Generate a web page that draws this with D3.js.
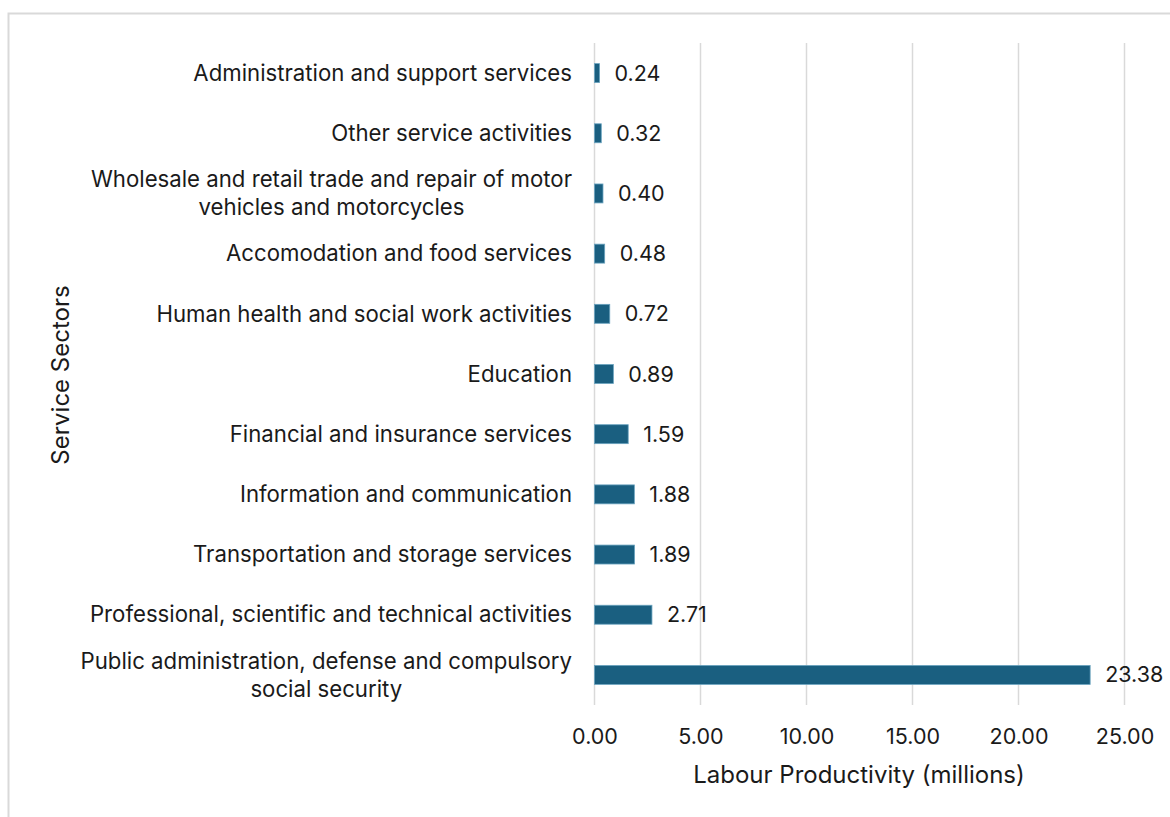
<!DOCTYPE html>
<html>
<head>
<meta charset="utf-8">
<script src="https://cdn.jsdelivr.net/npm/d3@7"></script>
<style>
  html, body { margin: 0; padding: 0; background: #fff; }
  svg { display: block; }
  text { font-family: Inter, "Open Sans", sans-serif; fill: #1a1a1a; }
</style>
</head>
<body>
<svg id="chart" width="1170" height="817"></svg>
<script>
// Service sectors, top to bottom, with labour productivity (millions)
const sectors = [
  ["Administration and support services"],
  ["Other service activities"],
  ["Wholesale and retail trade and repair of motor", "vehicles and motorcycles"],
  ["Accomodation and food services"],
  ["Human health and social work activities"],
  ["Education"],
  ["Financial and insurance services"],
  ["Information and communication"],
  ["Transportation and storage services"],
  ["Professional, scientific and technical activities"],
  ["Public administration, defense and compulsory", "social security"]
];
const productivity = [0.24, 0.32, 0.40, 0.48, 0.72, 0.89, 1.59, 1.88, 1.89, 2.71, 23.38];
const xTicks = [0, 5, 10, 15, 20, 25];
const xTitle = "Labour Productivity (millions)";
const yTitle = "Service Sectors";

const labelSize = 21.5;
const categorySize = 22.2;
const titleSize = 24;

const svg = d3.select("#chart");

// outer chart frame
svg.append("rect")
  .attr("x", 8.5).attr("y", 13.5)
  .attr("width", 1200).attr("height", 900)
  .attr("fill", "none").attr("stroke", "#d9d9d9").attr("stroke-width", 2);

const plot = { left: 594.5, right: 1124.5, top: 43, bottom: 705 };

const x = d3.scaleLinear().domain([0, 25]).range([plot.left, plot.right]);
const y = d3.scaleBand()
  .domain(d3.range(sectors.length))
  .range([plot.top, plot.bottom])
  .paddingInner(0.685).paddingOuter(0.3425);

// vertical gridlines
svg.append("g")
  .selectAll("line")
  .data(xTicks)
  .join("line")
  .attr("x1", d => x(d)).attr("x2", d => x(d))
  .attr("y1", plot.top).attr("y2", plot.bottom)
  .attr("stroke", "#d9d9d9").attr("stroke-width", 1.5);

// x axis tick labels
const xAxis = d3.axisBottom(x).tickValues(xTicks).tickFormat(d3.format(".2f")).tickSize(0).tickPadding(0);
const gx = svg.append("g").attr("transform", `translate(0,${plot.bottom})`).call(xAxis);
gx.select(".domain").remove();
gx.selectAll("text").attr("font-size", labelSize).attr("fill", "#1a1a1a")
  .attr("font-family", "Inter, sans-serif").attr("dy", "0.35em").attr("y", 31);

// bars
svg.append("g")
  .selectAll("rect")
  .data(productivity)
  .join("rect")
  .attr("x", x(0))
  .attr("y", (d, i) => y(i))
  .attr("width", d => x(d) - x(0))
  .attr("height", y.bandwidth())
  .attr("fill", "#1a5f80")
  .attr("stroke", "#6aa3bf").attr("stroke-width", 0.8);

// value labels
svg.append("g")
  .selectAll("text")
  .data(productivity)
  .join("text")
  .attr("x", d => x(d) + 15)
  .attr("y", (d, i) => y(i) + y.bandwidth() / 2)
  .attr("dy", "0.35em")
  .attr("font-size", labelSize)
  .text(d => d.toFixed(2));

// category labels: right-aligned block, wrapped lines centred within it
const catG = svg.append("g");
sectors.forEach((lines, i) => {
  const cy = y(i) + y.bandwidth() / 2;
  const g = catG.append("g");
  const lh = 28;
  const texts = lines.map((ln, k) => g.append("text")
    .attr("font-size", categorySize)
    .attr("y", cy + (k - (lines.length - 1) / 2) * lh)
    .attr("dy", "0.35em")
    .text(ln));
  const widths = texts.map(t => t.node().getComputedTextLength());
  const maxW = d3.max(widths);
  const right = 572;
  texts.forEach(t => t.attr("x", right - maxW / 2).attr("text-anchor", "middle"));
});

// axis titles
svg.append("text")
  .attr("x", 859)
  .attr("y", 775)
  .attr("dy", "0.35em")
  .attr("text-anchor", "middle")
  .attr("font-size", titleSize)
  .text(xTitle);

svg.append("text")
  .attr("transform", `translate(61,375) rotate(-90)`)
  .attr("dy", "0.35em")
  .attr("text-anchor", "middle")
  .attr("font-size", titleSize)
  .text(yTitle);
</script>
</body>
</html>
